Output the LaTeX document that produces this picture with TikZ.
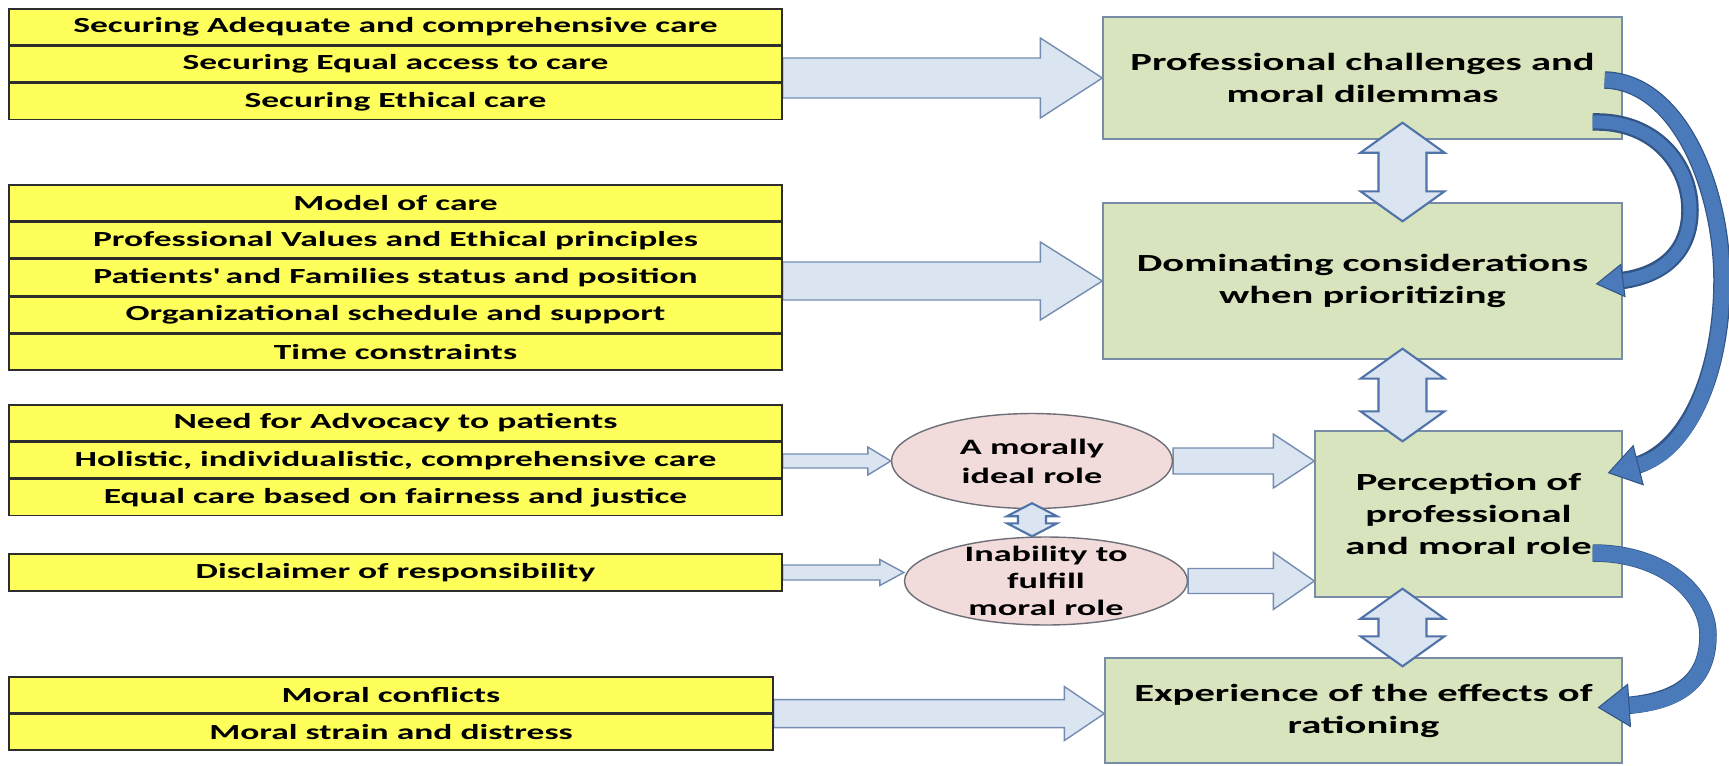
\documentclass[tikz,border=0pt]{standalone}
\usepackage{fontspec}
\setmainfont{Carlito}[FakeStretch=1.65]
\usetikzlibrary{positioning,shapes.geometric,calc,arrows.meta,backgrounds}
\definecolor{rowyellow}{RGB}{255,255,92}
\definecolor{rowline}{RGB}{45,45,45}
\definecolor{boxgreen}{RGB}{215,228,189}
\definecolor{boxline}{RGB}{120,140,165}
\definecolor{ovalpink}{RGB}{242,220,219}
\definecolor{ovalline}{RGB}{110,110,120}
\definecolor{paleblue}{RGB}{219,229,241}
\definecolor{paleline}{RGB}{115,140,175}
\definecolor{dualline}{RGB}{80,115,170}
\definecolor{deepblue}{RGB}{74,122,185}
\definecolor{deepline}{RGB}{50,85,135}

% flat block arrow: start, tip, shaft half, head half, head length
\newcommand{\flatarrow}[5]{%
  \draw[blockarr] ($(#1)+(0,-#3)$) -- ($(#2)+(-#5,-#3)$) -- ($(#2)+(-#5,-#4)$) -- (#2)
    -- ($(#2)+(-#5,#4)$) -- ($(#2)+(-#5,#3)$) -- ($(#1)+(0,#3)$) -- cycle;}
% up-down block arrow: top tip, bottom tip, shaft half, head half, head length
\newcommand{\dualarrow}[5]{%
  \draw[dualarr] (#1) -- ($(#1)+(#4,#5)$) -- ($(#1)+(#3,#5)$) -- ($(#2)+(#3,-#5)$)
    -- ($(#2)+(#4,-#5)$) -- (#2) -- ($(#2)+(-#4,-#5)$) -- ($(#2)+(-#3,-#5)$)
    -- ($(#1)+(-#3,#5)$) -- ($(#1)+(-#4,#5)$) -- cycle;}

\begin{document}
\begin{tikzpicture}[x=0.02cm, y=-0.02cm,
    every node/.style={font=\fontsize{14}{18.2}\selectfont\bfseries},
    cellrow/.style={draw=rowline, line width=0.9pt, fill=rowyellow,
      minimum width=15.46cm, minimum height=0.715cm, inner sep=0pt,
      font=\fontsize{12.25}{14}\selectfont\bfseries},
    stage/.style={draw=boxline, line width=0.8pt, fill=boxgreen,
      align=center, inner sep=0pt},
    oval/.style={ellipse, draw=ovalline, line width=0.8pt, fill=ovalpink, inner sep=0pt},
    ovaltext/.style={align=center, inner sep=0pt},
    blockarr/.style={draw=paleline, line width=0.8pt, fill=paleblue, line join=miter},
    dualarr/.style={draw=dualline, line width=1.2pt, fill=paleblue, line join=miter},
    curvearr/.style={draw=deepblue,
      preaction={draw=deepline, arrows=-, line width=0.35cm, shorten >=0.5cm}},
  ]

  \useasboundingbox (0,0) rectangle (1729,765);

  % Left tables
  \node[cellrow] (t1a) at (395.5,26.9) {Securing Adequate and comprehensive care};
  \node[cellrow, below=0pt of t1a] (t1b) {Securing Equal access to care};
  \node[cellrow, below=0pt of t1b] (t1c) {Securing Ethical care};

  \node[cellrow] (t2a) at (395.5,202.9) {Model of care};
  \node[cellrow, below=0pt of t2a] (t2b) {Professional Values and Ethical principles};
  \node[cellrow, below=0pt of t2b] (t2c) {Patients\textquotesingle{} and Families status and position};
  \node[cellrow, below=0pt of t2c] (t2d) {Organizational schedule and support};
  \node[cellrow, below=0pt of t2d] (t2e) {Time constraints};

  \node[cellrow] (t3a) at (395.5,422.9) {Need for Advocacy to patients};
  \node[cellrow, below=0pt of t3a] (t3b) {Holistic, individualistic, comprehensive care};
  \node[cellrow, below=0pt of t3b] (t3c) {Equal care based on fairness and justice};

  \node[cellrow, minimum height=0.74cm] (t4) at (395.5,572.5) {Disclaimer of responsibility};

  \node[cellrow, minimum width=15.28cm] (t5a) at (391,694.9) {Moral conflicts};
  \node[cellrow, minimum width=15.28cm, below=0pt of t5a] (t5b) {Moral strain and distress};

  % Right-hand stages
  \node[stage, minimum width=10.38cm, minimum height=2.44cm] (b1) at (1362.5,78)
    {Professional challenges and\\moral dilemmas};
  \node[stage, minimum width=10.38cm, minimum height=3.12cm] (b2) at (1362.5,281)
    {Dominating considerations\\when prioritizing};
  \node[stage, minimum width=6.14cm, minimum height=3.32cm] (b3) at (1468.5,514)
    {Perception of\\professional\\and moral role};
  \node[stage, minimum width=10.34cm, minimum height=2.1cm] (b4) at (1363.5,710.5)
    {Experience of the effects of\\rationing};

  % Role ellipses
  \node[oval, minimum width=5.62cm, minimum height=1.9cm] (e1) at (1032,461) {};
  \node[ovaltext, font=\fontsize{12.5}{16.5}\selectfont\bfseries] (e1t) at (e1)
    {A morally\\ideal role};
  \node[oval, minimum width=5.66cm, minimum height=1.76cm] (e2) at (1046,581) {};
  \node[ovaltext, font=\fontsize{12.5}{15.4}\selectfont\bfseries] (e2t) at (e2)
    {Inability to\\fulfill\\moral role};

  % Flat arrows into the stages
  \begin{scope}[on background layer]
    \flatarrow{t1b.east |- b1.west}{b1.west}{20}{40}{62}
    \flatarrow{t2c.east |- b2.west}{b2.west}{19}{39}{62}
    \flatarrow{t3b.east |- e1.west}{e1.west}{7}{14}{23}
    \flatarrow{t4.east}{e2.west |- t4.east}{7.5}{13}{24}
    \flatarrow{e1.east}{b3.west |- e1.east}{13}{27}{41}
    \flatarrow{e2.east}{b3.west |- e2.east}{12.5}{28.5}{41}
    \flatarrow{t5a.south east}{b4.west |- t5a.south east}{14}{27}{40}
  \end{scope}

  % Up-down arrows between stages
  \coordinate (vx) at ($(b1.south)+(40,0)$);
  \dualarrow{$(vx)+(0,-17)$}{$(vx |- b2.north)+(0,19)$}{24}{42}{30}
  \dualarrow{$(vx |- b2.south)+(0,-11)$}{$(vx |- b3.north)+(0,11)$}{24}{42}{30}
  \dualarrow{$(vx |- b3.south)+(0,-9)$}{$(vx |- b4.north)+(0,9)$}{24}{42}{30}
  \dualarrow{$(e1.south)+(0,-6)$}{e1.south |- e2.north}{14}{25}{13}

  % Curved feedback arrows
  \draw[curvearr, line width=0.3cm,
      -{Triangle[width=0.84cm, length=0.64cm, line width=0.6pt, color=deepline, fill=deepblue]}]
    ($(b1.east)+(-18,2)$) .. controls (1680,82) and (1722,190) .. (1722,280)
    .. controls (1722,370) and (1690,452) .. ($(b3.east)+(-15,-41)$);
  \draw[curvearr, line width=0.26cm,
      -{Triangle[width=0.68cm, length=0.56cm, line width=0.6pt, color=deepline, fill=deepblue]}]
    ($(b1.east)+(-30,44)$) .. controls (1655,120) and (1690,165) .. (1690,210)
    .. controls (1690,250) and (1665,275) .. ($(b2.east)+(-27,3)$);
  \draw[curvearr, line width=0.32cm,
      -{Triangle[width=0.88cm, length=0.64cm, line width=0.6pt, color=deepline, fill=deepblue]}]
    ($(b3.east)+(-30,39)$) .. controls (1665,553) and (1708,595) .. (1708,635)
    .. controls (1708,680) and (1680,702) .. ($(b4.east)+(-25,-3)$);

\end{tikzpicture}
\end{document}
